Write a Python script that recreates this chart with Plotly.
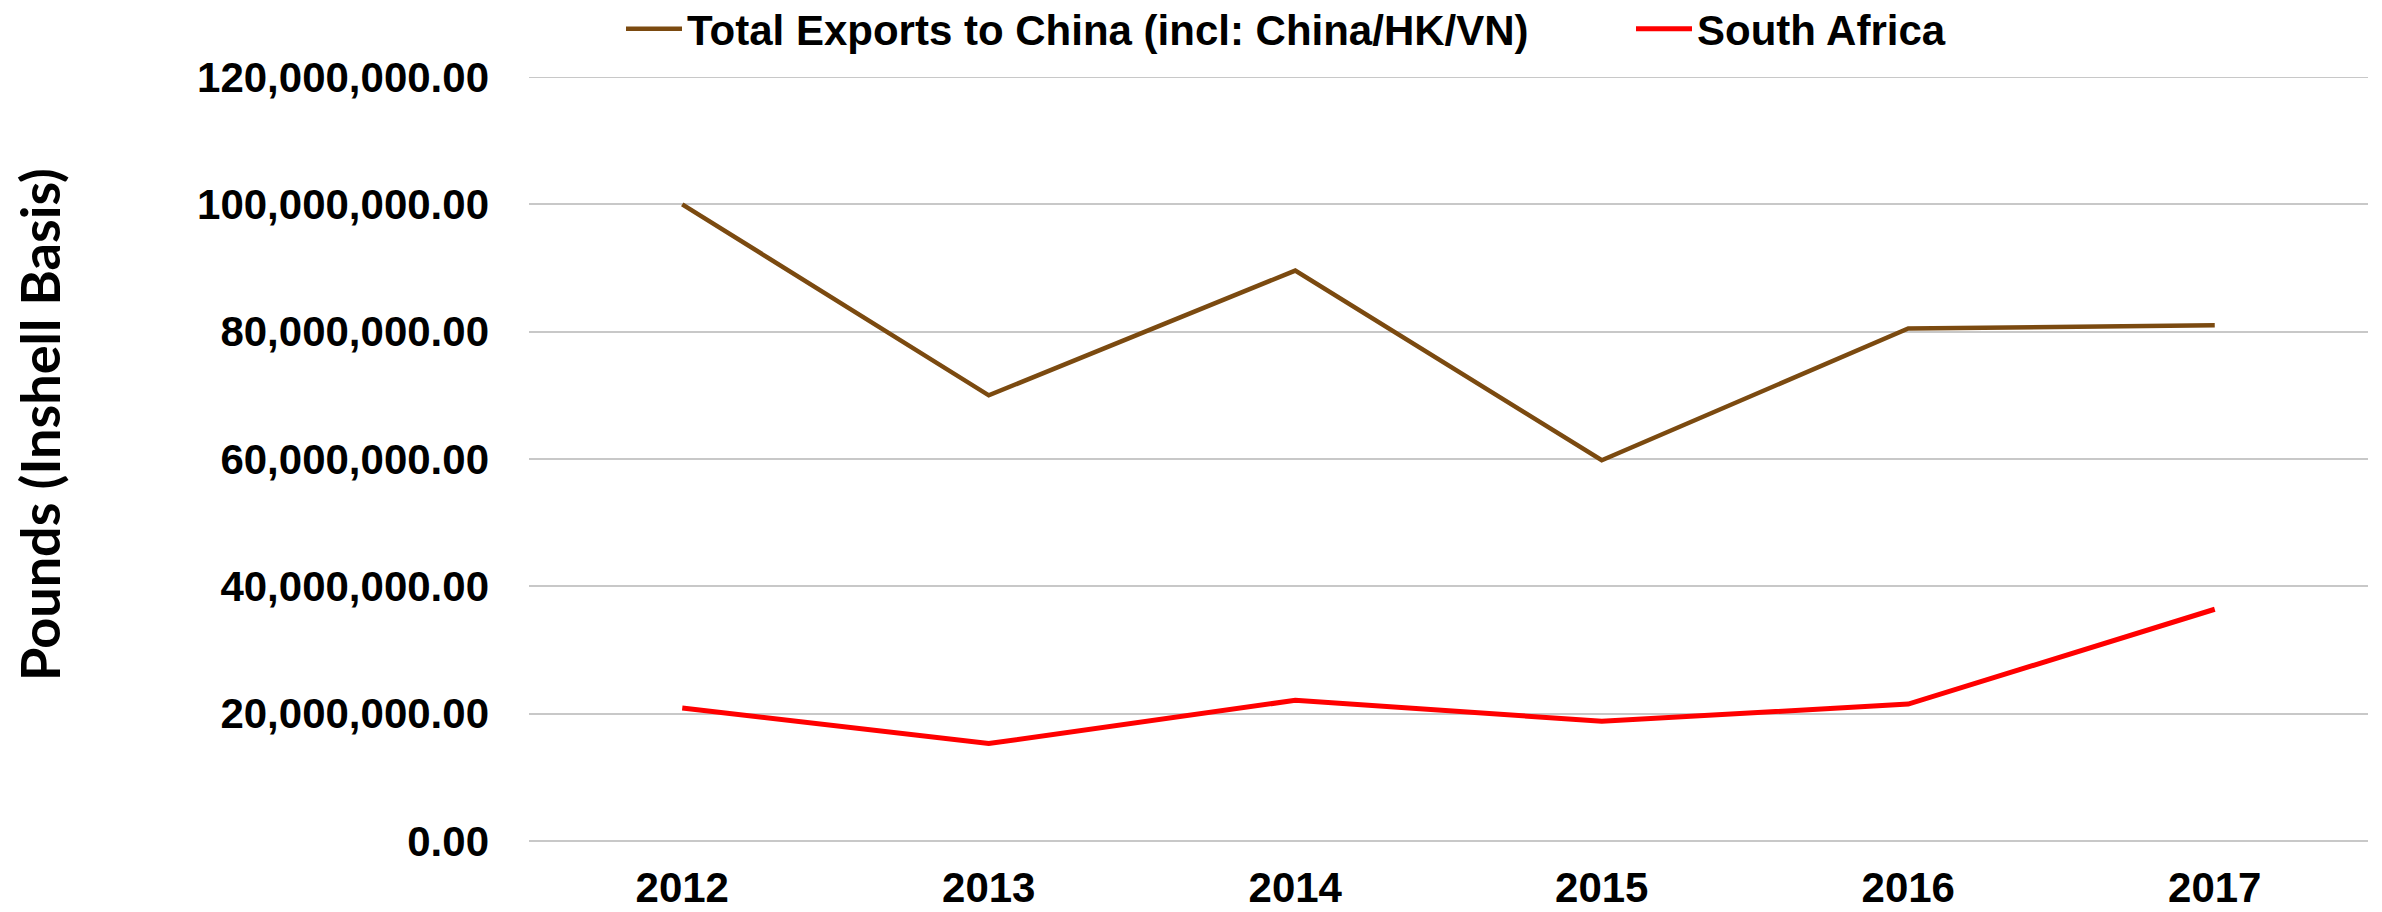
import plotly.graph_objects as go

years = ["2012", "2013", "2014", "2015", "2016", "2017"]
china_total = [100.0e6, 70.0e6, 89.6e6, 59.8e6, 80.5e6, 81.0e6]
south_africa = [20.9e6, 15.3e6, 22.1e6, 18.8e6, 21.5e6, 36.4e6]
y_ticks = [0, 20e6, 40e6, 60e6, 80e6, 100e6, 120e6]

GRID = "#C8C8C8"

# The HTML page has an 8px body margin; size the figure so it fits the window.
W, H = 2374, 904
ML, MR, MT, MB = 521, 14, 69, 71
PW = W - ML - MR
PH = H - MT - MB

legend_font = dict(family="Liberation Sans, Arial", size=42, color="black", weight="bold")


def legend_at(px_x):
    return dict(
        orientation="h", x=(px_x - ML) / PW, xanchor="left",
        y=1 + (MT - 21) / PH, yanchor="middle",
        font=legend_font, bgcolor="rgba(0,0,0,0)", itemwidth=56,
    )


fig = go.Figure()
fig.add_trace(go.Scatter(
    x=years, y=china_total, mode="lines",
    name="Total Exports to China (incl: China/HK/VN)",
    line=dict(color="#7B4A10", width=4.5),
    legend="legend",
))
fig.add_trace(go.Scatter(
    x=years, y=south_africa, mode="lines",
    name="South Africa",
    line=dict(color="#FF0000", width=5),
    legend="legend2",
))

fig.update_layout(
    width=W, height=H,
    margin=dict(l=ML, r=MR, t=MT, b=MB, pad=0, autoexpand=False),
    paper_bgcolor="white", plot_bgcolor="white",
    font=dict(family="Liberation Sans, Arial", size=42, color="black"),
    showlegend=True,
    legend=legend_at(613),
    legend2=legend_at(1623),
    xaxis=dict(
        type="category", range=[-0.5, 5.5],
        showgrid=False, zeroline=False, showline=False,
        ticks="", tickfont=dict(family="Liberation Sans, Arial", size=42, weight="bold"),
        ticklabelstandoff=18,
    ),
    yaxis=dict(
        range=[0, y_ticks[-1]], tickvals=y_ticks, tickformat=",.2f",
        showgrid=True, gridcolor=GRID, gridwidth=2,
        zeroline=True, zerolinecolor=GRID, zerolinewidth=2,
        showline=False, ticks="",
        tickfont=dict(family="Liberation Sans, Arial", size=42, weight="bold"),
        ticklabelstandoff=39,
    ),
    shapes=[dict(
        type="line", xref="paper", x0=0, x1=1, yref="y",
        y0=y_ticks[-1], y1=y_ticks[-1],
        line=dict(color=GRID, width=2), layer="below",
    )],
    annotations=[dict(
        text="Pounds (Inshell Basis)", textangle=-90,
        xref="paper", yref="paper",
        x=(31 - ML) / PW, y=(H - MB - 417) / PH,
        xanchor="center", yanchor="middle", showarrow=False,
        borderpad=0,
        font=dict(family="Lato", size=54, color="black", weight="bold"),
    )],
)

fig.write_html("out.html")
